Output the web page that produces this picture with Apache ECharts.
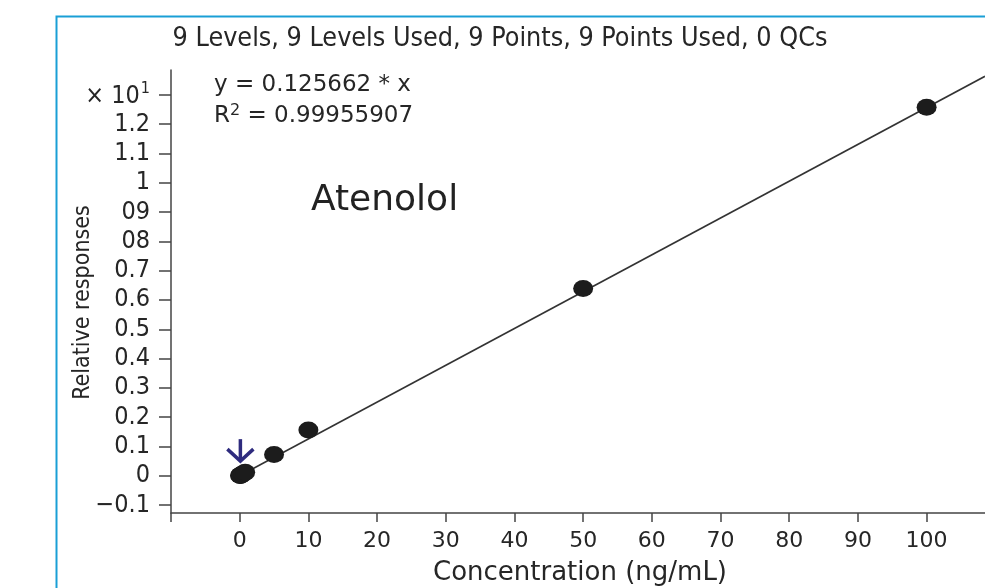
<!DOCTYPE html>
<html><head><meta charset="utf-8">
<script src="https://cdn.jsdelivr.net/npm/echarts@6/dist/echarts.min.js"></script>
<style>html,body{margin:0;padding:0;background:#fff}#c{width:985px;height:588px}</style>
</head><body><div id="c"></div>
<script>
// ---- data ----
const titleText = '9 Levels, 9 Levels Used, 9 Points, 9 Points Used, 0 QCs';
const compoundName = 'Atenolol';
const equationLine1 = 'y = 0.125662 * x';
const equationLine2 = 'R{sup|2} = 0.99955907';
const slope = 0.125662;
const concentrations = [0.05, 0.1, 0.2, 0.5, 0.8, 5, 10, 50, 100];
const responses = [0.006, 0.012, 0.025, 0.07, 0.12, 0.73, 1.56, 6.39, 12.58];
const xTickValues = [-10, 0, 10, 20, 30, 40, 50, 60, 70, 80, 90, 100];
const xLabelValues = [0, 10, 20, 30, 40, 50, 60, 70, 80, 90, 100];
const yTickValues = [-1, 0, 1, 2, 3, 4, 5, 6, 7, 8, 9, 10, 11, 12, 13];
const yTickLabels = ['\u22120.1', '0', '0.1', '0.2', '0.3', '0.4', '0.5', '0.6', '0.7', '08', '09', '1', '1.1', '1.2', '\u00d7 10^1'];
const arrowTip = [0.1, 0.5];
const xRange = [-10, 108.5];
const yRange = [-1.27, 13.85];
const xName = 'Concentration (ng/mL)';
const yName = 'Relative responses';

// ---- chart ----
const COND = '"DejaVu Sans Condensed", "Liberation Sans Narrow", "Liberation Sans", sans-serif';
const REG = '"DejaVu Sans", "Liberation Sans", sans-serif';
const TXT = '#262626';
const chart = echarts.init(document.getElementById('c'), null, {renderer: 'canvas'});

const fitLine = [[0, 0], [xRange[1], slope * xRange[1]]];
const points = concentrations.map((c, i) => [c, responses[i]]);

chart.setOption({
  animation: false,
  backgroundColor: '#fff',
  title: {
    text: titleText,
    left: 495, top: 21, textAlign: 'center',
    textStyle: {fontFamily: COND, fontSize: 26.7, fontWeight: 'normal', color: TXT}
  },
  grid: {left: 171, top: 70, right: 0, bottom: 75, containLabel: false, outerBoundsMode: 'none'},
  xAxis: {
    type: 'value', min: xRange[0], max: xRange[1], interval: 10,
    name: xName, nameLocation: 'middle', nameGap: 47, nameMoveOverlap: false,
    nameTextStyle: {fontFamily: REG, fontSize: 26, color: TXT, padding: [0, 0, 0, 4]},
    axisLine: {show: true, onZero: false, lineStyle: {color: '#444', width: 1.5}},
    axisTick: {show: true, inside: false, length: 9, customValues: xTickValues, lineStyle: {color: '#444', width: 1.5}},
    axisLabel: {customValues: xLabelValues, margin: 17, fontFamily: REG, fontSize: 22, color: TXT},
    splitLine: {show: false}
  },
  yAxis: {
    type: 'value', min: yRange[0], max: yRange[1],
    name: yName, nameLocation: 'middle', nameGap: 76, nameRotate: 90, nameMoveOverlap: false,
    nameTextStyle: {fontFamily: COND, fontSize: 23, color: TXT, padding: [0, 22, 0, 0]},
    axisLine: {show: true, onZero: false, lineStyle: {color: '#444', width: 1.5}},
    axisTick: {show: true, inside: false, length: 12, customValues: yTickValues, lineStyle: {color: '#444', width: 1.5}},
    axisLabel: {
      customValues: yTickValues, margin: 21, fontFamily: COND, fontSize: 25, color: TXT,
      formatter: function (v) {
        const i = yTickValues.indexOf(Math.round(v));
        const s = i >= 0 ? yTickLabels[i] : '';
        if (s.indexOf('^') >= 0) {
          const parts = s.split('^');
          return '{m|' + parts[0] + '}{s|' + parts[1] + '}';
        }
        return s;
      },
      rich: {
        m: {fontFamily: COND, fontSize: 25, color: TXT, verticalAlign: 'bottom'},
        s: {fontFamily: COND, fontSize: 16, color: TXT, verticalAlign: 'bottom', padding: [0, 0, 12, 1]}
      }
    },
    splitLine: {show: false}
  },
  graphic: [
    {type: 'rect', left: 54, top: 14, silent: true, z: 100,
     shape: {width: 1000, height: 600}, style: {fill: 'none', stroke: '#1a9fd6', lineWidth: 2}},
    {type: 'text', x: 214, y: 85, z: 100,
     style: {text: equationLine1, fontFamily: REG, fontSize: 23, fill: TXT, textVerticalAlign: 'middle'}},
    {type: 'text', x: 214, y: 116, z: 100,
     style: {text: equationLine2, fontFamily: REG, fontSize: 23, fill: TXT, textVerticalAlign: 'middle',
       rich: {sup: {fontFamily: REG, fontSize: 16, fill: TXT, padding: [0, 0, 11, 0], verticalAlign: 'bottom'}}}},
    {type: 'text', x: 311, y: 201, z: 100,
     style: {text: compoundName, fontFamily: REG, fontSize: 36, fill: '#222', textVerticalAlign: 'middle'}}
  ],
  series: [
    {type: 'line', data: fitLine, symbol: 'none', silent: true, z: 2,
     lineStyle: {color: '#333', width: 1.6}},
    {type: 'scatter', data: points, symbol: 'circle', symbolSize: [20, 17], z: 3,
     itemStyle: {color: '#1c1c1c', opacity: 1}},
    {type: 'custom', data: [arrowTip], z: 4, silent: true,
     renderItem: function (params, api) {
       const p = api.coord([api.value(0), api.value(1)]);
       const st = {stroke: '#2e2b7e', lineWidth: 3.5, fill: 'none', lineCap: 'butt', lineJoin: 'miter'};
       return {type: 'group', children: [
         {type: 'line', shape: {x1: p[0], y1: p[1] - 22, x2: p[0], y2: p[1] - 1}, style: st},
         {type: 'polyline', shape: {points: [[p[0] - 13, p[1] - 12], [p[0], p[1]], [p[0] + 13, p[1] - 12]]}, style: st}
       ]};
     }}
  ]
});
</script></body></html>
